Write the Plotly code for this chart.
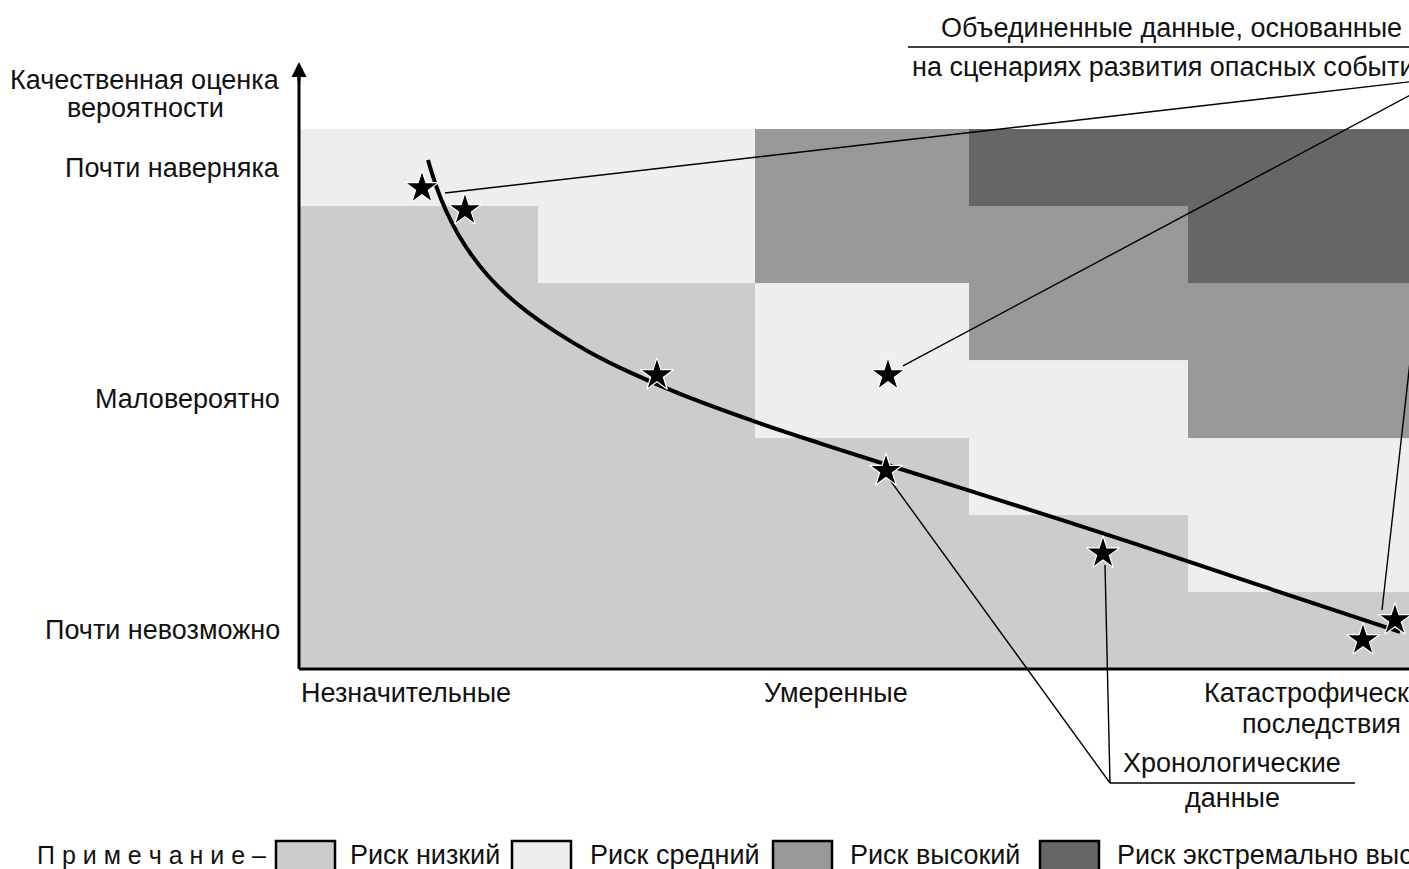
import plotly.graph_objects as go

# ---------------- data ----------------
# consequence axis: column edges; likelihood axis: row edges
column_edges = [0, 2.39, 4.56, 6.70, 8.89, 11.3]
row_edges = [0, 1, 2, 3, 4, 5, 6, 7]
# risk level per cell, rows from bottom to top (0 low, 1 medium, 2 high, 3 extreme)
risk_levels = [
    [0, 0, 0, 0, 0],
    [0, 0, 0, 0, 1],
    [0, 0, 0, 1, 1],
    [0, 0, 1, 1, 2],
    [0, 0, 1, 2, 2],
    [0, 1, 2, 2, 3],
    [1, 1, 2, 3, 3],
]
risk_names = ["Риск низкий", "Риск средний", "Риск высокий", "Риск экстремально высокий"]
risk_colors = ["#cccccc", "#eeeeee", "#999999", "#666666"]

likelihood_labels = ["Почти невозможно", "Маловероятно", "Почти наверняка"]
likelihood_ticks = [0.5, 3.5, 6.5]
consequence_labels = ["Незначительные", "Умеренные", "Катастрофические", "последствия"]

# F-N style curve
curve_x = [1.29, 1.37, 1.47, 1.59, 1.73, 1.89, 2.07, 2.29, 2.56, 2.91, 3.31, 3.81,
           4.54, 5.21, 5.88, 7.01, 8.01, 9.01, 10.14, 11.01]
curve_y = [6.598, 6.267, 5.942, 5.639, 5.358, 5.098, 4.861, 4.622, 4.376, 4.104, 3.845, 3.566,
           3.216, 2.926, 2.648, 2.187, 1.772, 1.344, 0.853, 0.481]

# stars
star_x = [1.23, 1.66, 3.58, 5.89, 5.87, 8.04, 10.64, 10.96]
star_y = [6.235, 5.95, 3.81, 3.81, 2.57, 1.50, 0.376, 0.635]

# leader lines: scenario-based data (converge off the right edge)
scen_start_x = [1.46, 6.04, 10.83]
scen_start_y = [6.17, 3.93, 0.765]
scen_end = (11.43, 7.66)
# leader lines: chronological data
chrono_start_x = [5.91, 8.06]
chrono_start_y = [2.45, 1.35]
chrono_end = (8.11, -1.478)
chrono_rule_end_x = 10.56

FONT = "Liberation Sans, Arial, Helvetica, sans-serif"
FS = 27

# ---------------- figure ----------------
fig = go.Figure()

# risk matrix
n = len(risk_colors)
cs = []
for i, c in enumerate(risk_colors):
    cs.append([i / n, c])
    cs.append([(i + 1) / n, c])
fig.add_trace(go.Heatmap(
    x=column_edges, y=row_edges, z=risk_levels,
    zmin=-0.5, zmax=n - 0.5, colorscale=cs, showscale=False, hoverinfo="skip",
))

# axes (drawn as lines)
fig.add_trace(go.Scatter(x=[0, 11.3], y=[0, 0], mode="lines",
                         line=dict(color="black", width=3), hoverinfo="skip"))
fig.add_trace(go.Scatter(x=[0, 0], y=[0, 7.72], mode="lines",
                         line=dict(color="black", width=3), hoverinfo="skip"))
fig.add_annotation(x=0, y=7.87, ax=0, ay=7.6, xref="x", yref="y", axref="x", ayref="y",
                   text="", showarrow=True, arrowhead=2, arrowsize=1.0, arrowwidth=3,
                   arrowcolor="black")

# leader lines
lx, ly = [], []
for sx, sy in zip(scen_start_x, scen_start_y):
    lx += [sx, scen_end[0], None]
    ly += [sy, scen_end[1], None]
for sx, sy in zip(chrono_start_x, chrono_start_y):
    lx += [sx, chrono_end[0], None]
    ly += [sy, chrono_end[1], None]
lx += [chrono_end[0], chrono_rule_end_x, None]
ly += [chrono_end[1], chrono_end[1], None]
lx += [6.09, 11.5]
ly += [8.063, 8.063]
fig.add_trace(go.Scatter(x=lx, y=ly, mode="lines",
                         line=dict(color="black", width=1.4), hoverinfo="skip"))

# curve
fig.add_trace(go.Scatter(x=curve_x, y=curve_y, mode="lines",
                         line=dict(color="black", width=4, shape="spline", smoothing=1.0),
                         hoverinfo="skip"))

# stars
fig.add_trace(go.Scatter(x=star_x, y=star_y, mode="markers",
                         marker=dict(symbol="star", size=25, color="black",
                                     line=dict(color="white", width=1.2)),
                         hoverinfo="skip"))

def txt(x, y, s, anchor="center", size=FS):
    fig.add_annotation(x=x, y=y, xref="x", yref="y", text=s, showarrow=False,
                       xanchor=anchor, yanchor="middle",
                       font=dict(family=FONT, size=size, color="#111111"))

# y axis labels
for lab, t in zip(likelihood_labels, likelihood_ticks):
    txt(-0.17, t, lab, "right")
txt(-1.54, 7.635, "Качественная оценка")
txt(-1.54, 7.27, "вероятности")

# x axis labels
txt(0.0, -0.311, consequence_labels[0], "left")
txt(5.37, -0.311, consequence_labels[1])
txt(10.22, -0.311, consequence_labels[2])
txt(10.22, -0.713, consequence_labels[3])

# callout labels
txt(8.72, 8.31, "Объединенные данные, основанные")
txt(8.72, 7.80, "на сценариях развития опасных событий")
txt(9.33, -1.219, "Хронологические")
txt(9.33, -1.672, "данные")

# legend note
txt(-2.64, -2.41, "П р и м е ч а н и е –", "left", 25)
box_x0 = [-0.23, 2.13, 4.74, 7.41]
text_x0 = [0.49, 2.89, 5.49, 8.16]
for i in range(n):
    fig.add_shape(type="rect", xref="x", yref="y", x0=box_x0[i], x1=box_x0[i] + 0.59,
                  y0=-2.66, y1=-2.23, fillcolor=risk_colors[i],
                  line=dict(color="black", width=2.5))
    txt(text_x0[i], -2.41, risk_names[i], "left")

fig.update_layout(
    width=1409, height=869, autosize=False,
    margin=dict(l=0, r=0, t=0, b=0, pad=0),
    paper_bgcolor="white", plot_bgcolor="white", showlegend=False,
    xaxis=dict(range=[-2.99, 11.10], visible=False, fixedrange=True),
    yaxis=dict(range=[-2.5927, 8.6726], visible=False, fixedrange=True),
)

fig.write_html("out.html", config={"displayModeBar": False},
               post_script="document.body.style.margin='0';")
